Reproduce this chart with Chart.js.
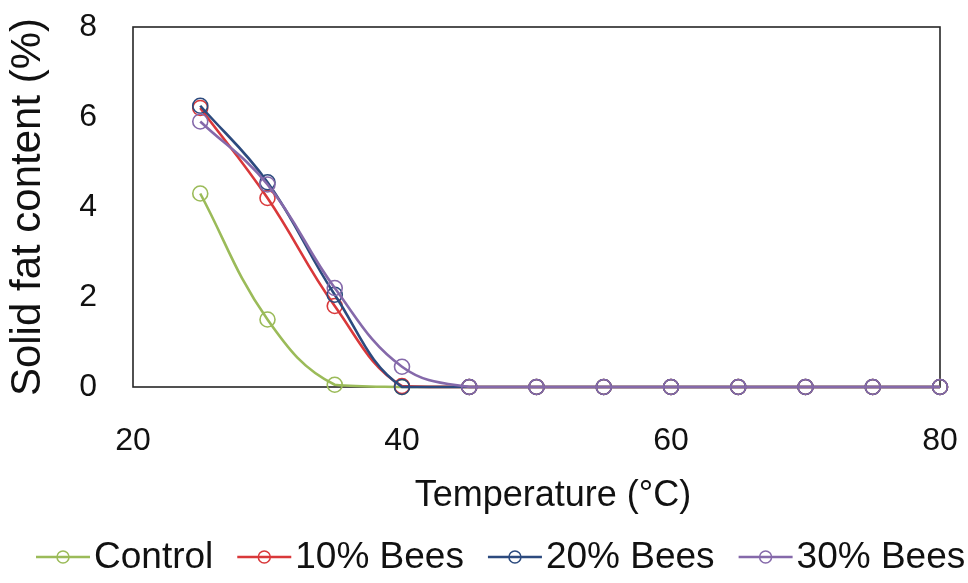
<!DOCTYPE html>
<html>
<head>
<meta charset="utf-8">
<title>Solid fat content vs temperature</title>
<script src="https://cdn.jsdelivr.net/npm/chart.js@4.4.1/dist/chart.umd.min.js"></script>
<style>
  html, body { margin: 0; padding: 0; background: #fff; }
</style>
</head>
<body>
<canvas id="chart" width="968" height="583"></canvas>
<script>
// Data
const temperatures = [25, 30, 35, 40, 45, 50, 55, 60, 65, 70, 75, 80];
const seriesNames = ['Control', '10% Bees', '20% Bees', '30% Bees'];
const controlSfc = [4.3, 1.5, 0.05, 0, 0, 0, 0, 0, 0, 0, 0, 0];
const bees10Sfc = [6.2, 4.2, 1.8, 0.02, 0, 0, 0, 0, 0, 0, 0, 0];
const bees20Sfc = [6.25, 4.55, 2.05, 0, 0, 0, 0, 0, 0, 0, 0, 0];
const bees30Sfc = [5.9, 4.5, 2.2, 0.45, 0, 0, 0, 0, 0, 0, 0, 0];
const xTicks = [20, 40, 60, 80];
const yTicks = [0, 2, 4, 6, 8];
const xTitle = 'Temperature (°C)';
const yTitle = 'Solid fat content (%)';

const COLORS = ['#9BBB59', '#D9383A', '#2C4A7E', '#8569AA'];
const FONT = '"Liberation Sans", Arial, sans-serif';
const TEXT = '#111';

function series(i, values) {
  return {
    label: seriesNames[i],
    data: temperatures.map((t, k) => ({ x: t, y: values[k] })),
    borderColor: COLORS[i],
    backgroundColor: 'rgba(0,0,0,0)',
    borderWidth: 2.6,
    tension: 0.4,
    pointRadius: 7.5,
    pointBorderWidth: 1.6,
    pointBorderColor: COLORS[i],
    pointBackgroundColor: 'rgba(0,0,0,0)',
    clip: false,
    order: 3 - i,
  };
}

// Box around the plot area
const plotFrame = {
  id: 'plotFrame',
  beforeDatasetsDraw(chart) {
    const { ctx, chartArea: a } = chart;
    ctx.save();
    ctx.strokeStyle = '#262626';
    ctx.lineWidth = 1.6;
    ctx.strokeRect(a.left, a.top, a.right - a.left, a.bottom - a.top);
    ctx.restore();
  },
};

// x axis title sits a little right of the plot centre
const xAxisTitle = {
  id: 'xAxisTitle',
  afterDraw(chart) {
    const ctx = chart.ctx;
    ctx.save();
    ctx.font = '36px ' + FONT;
    ctx.fillStyle = TEXT;
    ctx.textAlign = 'center';
    ctx.textBaseline = 'middle';
    ctx.fillText(xTitle, 553, 496);
    ctx.restore();
  },
};

// Legend: line with hollow circle marker, then the series name
const lineLegend = {
  id: 'lineLegend',
  afterDraw(chart) {
    const ctx = chart.ctx;
    const y = 557;
    const lineLen = 54;
    let x = 36;
    ctx.save();
    ctx.font = '37px ' + FONT;
    ctx.textBaseline = 'middle';
    ctx.textAlign = 'left';
    chart.data.datasets.forEach((ds) => {
      ctx.strokeStyle = ds.borderColor;
      ctx.lineWidth = 2.6;
      ctx.beginPath();
      ctx.moveTo(x, y);
      ctx.lineTo(x + lineLen, y);
      ctx.stroke();
      ctx.lineWidth = 1.5;
      ctx.beginPath();
      ctx.arc(x + lineLen / 2, y, 6, 0, Math.PI * 2);
      ctx.stroke();
      ctx.fillStyle = TEXT;
      ctx.fillText(ds.label, x + lineLen + 4, y + 1);
      x += lineLen + 4 + ctx.measureText(ds.label).width + 24;
    });
    ctx.restore();
  },
};

new Chart(document.getElementById('chart'), {
  type: 'line',
  data: {
    datasets: [
      series(0, controlSfc),
      series(1, bees10Sfc),
      series(2, bees20Sfc),
      series(3, bees30Sfc),
    ],
  },
  options: {
    responsive: false,
    animation: false,
    layout: { padding: { top: 27, right: 28, bottom: 66, left: 0 } },
    plugins: {
      legend: { display: false },
      tooltip: { enabled: false },
    },
    scales: {
      x: {
        type: 'linear',
        min: xTicks[0],
        max: xTicks[xTicks.length - 1],
        afterBuildTicks: (scale) => { scale.ticks = xTicks.map((v) => ({ value: v })); },
        afterFit: (scale) => {
          scale.height = 130;
          scale.paddingLeft = 0;
          scale.paddingRight = 0;
        },
        grid: { display: false, drawTicks: false },
        border: { display: false },
        ticks: { padding: 35, color: TEXT, font: { family: FONT, size: 32 } },
      },
      y: {
        min: yTicks[0],
        max: yTicks[yTicks.length - 1],
        afterBuildTicks: (scale) => { scale.ticks = yTicks.map((v) => ({ value: v })); },
        afterFit: (scale) => {
          scale.width = 133;
          scale.paddingTop = 0;
          scale.paddingBottom = 0;
        },
        grid: { display: false, drawTicks: false },
        border: { display: false },
        ticks: { padding: 36, color: TEXT, font: { family: FONT, size: 32 } },
        title: {
          display: true,
          text: yTitle,
          color: TEXT,
          font: { family: FONT, size: 42 },
          padding: { top: 3, bottom: 0 },
        },
      },
    },
  },
  plugins: [plotFrame, xAxisTitle, lineLegend],
});
</script>
</body>
</html>
